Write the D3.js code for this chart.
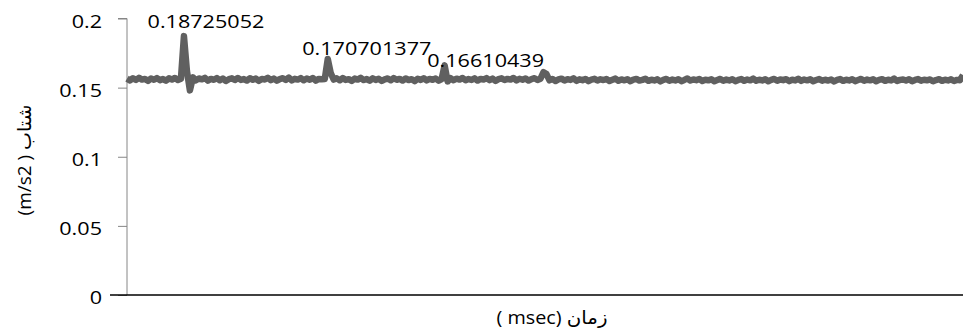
<!DOCTYPE html>
<html>
<head>
<meta charset="utf-8">
<script src="https://cdn.jsdelivr.net/npm/d3@7"></script>
<style>
  body { margin: 0; background: #fff; }
  svg text { font-family: "Open Sans", "DejaVu Sans", sans-serif; }
</style>
</head>
<body>
<div class="chart"></div>
<script>
// acceleration samples (m/s2)
var accel = [
  0.1565,0.1552,0.1568,0.1556,0.1571,0.1558,0.1563,0.1549,0.1566,0.1557,0.1569,0.1554,0.1562,0.1550,0.1567,0.1558,0.1570,0.1555,0.1564,0.18725052,
  0.1620,0.1480,0.1574,0.1553,0.1566,0.1560,0.1571,0.1551,0.1563,0.1557,0.1569,0.1553,0.1566,0.1548,0.1561,0.1567,0.1555,0.1570,0.1556,0.1562,
  0.1551,0.1568,0.1557,0.1565,0.1549,0.1563,0.1559,0.1571,0.1554,0.1566,0.1550,0.1562,0.1568,0.1556,0.1573,0.1552,0.1564,0.1558,0.1569,0.1553,
  0.1566,0.1557,0.1570,0.1551,0.1563,0.1560,0.1562,0.170701377,0.1605,0.1558,0.1567,0.1553,0.1569,0.1556,0.1561,0.1549,0.1565,0.1558,0.1571,0.1555,
  0.1562,0.1550,0.1567,0.1556,0.1564,0.1548,0.1560,0.1566,0.1553,0.1569,0.1557,0.1563,0.1551,0.1566,0.1555,0.1561,0.1547,0.1564,0.1556,0.1568,
  0.1552,0.1563,0.1557,0.1566,0.1550,0.1562,0.16610439,0.1545,0.1568,0.1554,0.1565,0.1558,0.1570,0.1553,0.1562,0.1556,0.1567,0.1551,0.1563,0.1559,
  0.1569,0.1554,0.1565,0.1549,0.1561,0.1567,0.1555,0.1563,0.1558,0.1570,0.1552,0.1564,0.1557,0.1566,0.1551,0.1562,0.1568,0.1556,0.1565,0.1612,
  0.1598,0.1553,0.1562,0.1548,0.1559,0.1565,0.1552,0.1561,0.1556,0.1567,0.1549,0.1560,0.1554,0.1563,0.1547,0.1558,0.1564,0.1551,0.1560,0.1555,
  0.1562,0.1548,0.1557,0.1565,0.1550,0.1559,0.1553,0.1561,0.1546,0.1558,0.1563,0.1551,0.1556,0.1564,0.1549,0.1557,0.1552,0.1560,0.1545,0.1556,
  0.1563,0.1550,0.1558,0.1552,0.1561,0.1547,0.1556,0.1566,0.1551,0.1559,0.1554,0.1562,0.1548,0.1557,0.1553,0.1560,0.1546,0.1555,0.1563,0.1550,
  0.1558,0.1552,0.1561,0.1547,0.1556,0.1562,0.1549,0.1558,0.1553,0.1565,0.1550,0.1557,0.1552,0.1560,0.1546,0.1556,0.1563,0.1550,0.1559,0.1554,
  0.1561,0.1547,0.1557,0.1552,0.1564,0.1549,0.1558,0.1553,0.1560,0.1546,0.1555,0.1562,0.1550,0.1557,0.1551,0.1559,0.1545,0.1556,0.1562,0.1549,
  0.1557,0.1552,0.1561,0.1547,0.1555,0.1563,0.1550,0.1558,0.1553,0.1560,0.1546,0.1556,0.1561,0.1549,0.1557,0.1552,0.1565,0.1548,0.1556,0.1559,
  0.1551,0.1560,0.1547,0.1556,0.1562,0.1550,0.1557,0.1553,0.1559,0.1546,0.1555,0.1561,0.1549,0.1557,0.1552,0.1560,0.1548,0.1556,0.1554,0.1591
];

var yTicks = [0, 0.05, 0.1, 0.15, 0.2];
var yTickLabels = ["0", "0.05", "0.1", "0.15", "0.2"];

// labelled peaks (sample index + text)
var peakIndex = [19, 67, 106];
var peakText = ["0.18725052", "0.170701377", "0.16610439"];

var yTitle = "(m/s2 ) شتاب";
var xTitle = "( msec) زمان";

var w = 963, h = 332;
var margin = {top: 18.5, right: 0, bottom: 37, left: 127};
var stretch = 1.2; // text in the picture is stretched sideways

var svg = d3.select("div.chart")
    .append("svg")
    .attr("width", w)
    .attr("height", h);

var x = d3.scaleLinear()
    .domain([0, accel.length - 1])
    .range([margin.left, w - margin.right]);

var y = d3.scaleLinear()
    .domain([0, 0.2])
    .range([h - margin.bottom, margin.top]);

//y axis
var yAxis = svg.append("g")
    .attr("transform", "translate(" + margin.left + ",0)")
    .call(d3.axisLeft(y).tickValues(yTicks).tickSize(9).tickFormat(""));
yAxis.select(".domain").attr("stroke", "#868686").attr("d", "M-9," + y(0.2) + "H0V" + y(0));
yAxis.selectAll(".tick line").attr("stroke", "#868686");

svg.selectAll(".ylab")
    .data(yTicks)
    .enter()
    .append("text")
    .attr("class", "ylab")
    .attr("transform", function(d){ return "translate(102," + (y(d) + 9) + ") scale(" + stretch + ",1)"; })
    .attr("text-anchor", "end")
    .attr("font-size", 18)
    .attr("fill", "#000")
    .text(function(d, i){ return yTickLabels[i]; });

//x axis line
svg.append("line")
    .attr("x1", margin.left - 17)
    .attr("x2", w)
    .attr("y1", y(0))
    .attr("y2", y(0))
    .attr("stroke", "#000")
    .attr("stroke-width", 1.5);

//series
var line = d3.line()
    .x(function(d, i){ return x(i); })
    .y(function(d){ return y(d); });

svg.append("path")
    .datum(accel)
    .attr("d", line)
    .attr("fill", "none")
    .attr("stroke", "#606060")
    .attr("stroke-width", 6.5)
    .attr("stroke-linejoin", "round");

//peak labels
var labelShift = [[22, -8], [39, -3.6], [41, 1.7]];
svg.selectAll(".peak")
    .data(peakIndex)
    .enter()
    .append("text")
    .attr("class", "peak")
    .attr("transform", function(d, i){
        return "translate(" + (x(d) + labelShift[i][0]) + "," + (y(accel[d]) + labelShift[i][1]) + ") scale(" + stretch + ",1)";
    })
    .attr("text-anchor", "middle")
    .attr("font-size", 18)
    .attr("fill", "#000")
    .text(function(d, i){ return peakText[i]; });

//axis titles
svg.append("text")
    .attr("transform", "translate(31,160) rotate(-90)")
    .attr("text-anchor", "middle")
    .attr("font-size", 19)
    .attr("fill", "#000")
    .text(yTitle);

svg.append("text")
    .attr("transform", "translate(552,324) scale(1.1,1)")
    .attr("text-anchor", "middle")
    .attr("font-size", 18)
    .attr("fill", "#000")
    .text(xTitle);
</script>
</body>
</html>
